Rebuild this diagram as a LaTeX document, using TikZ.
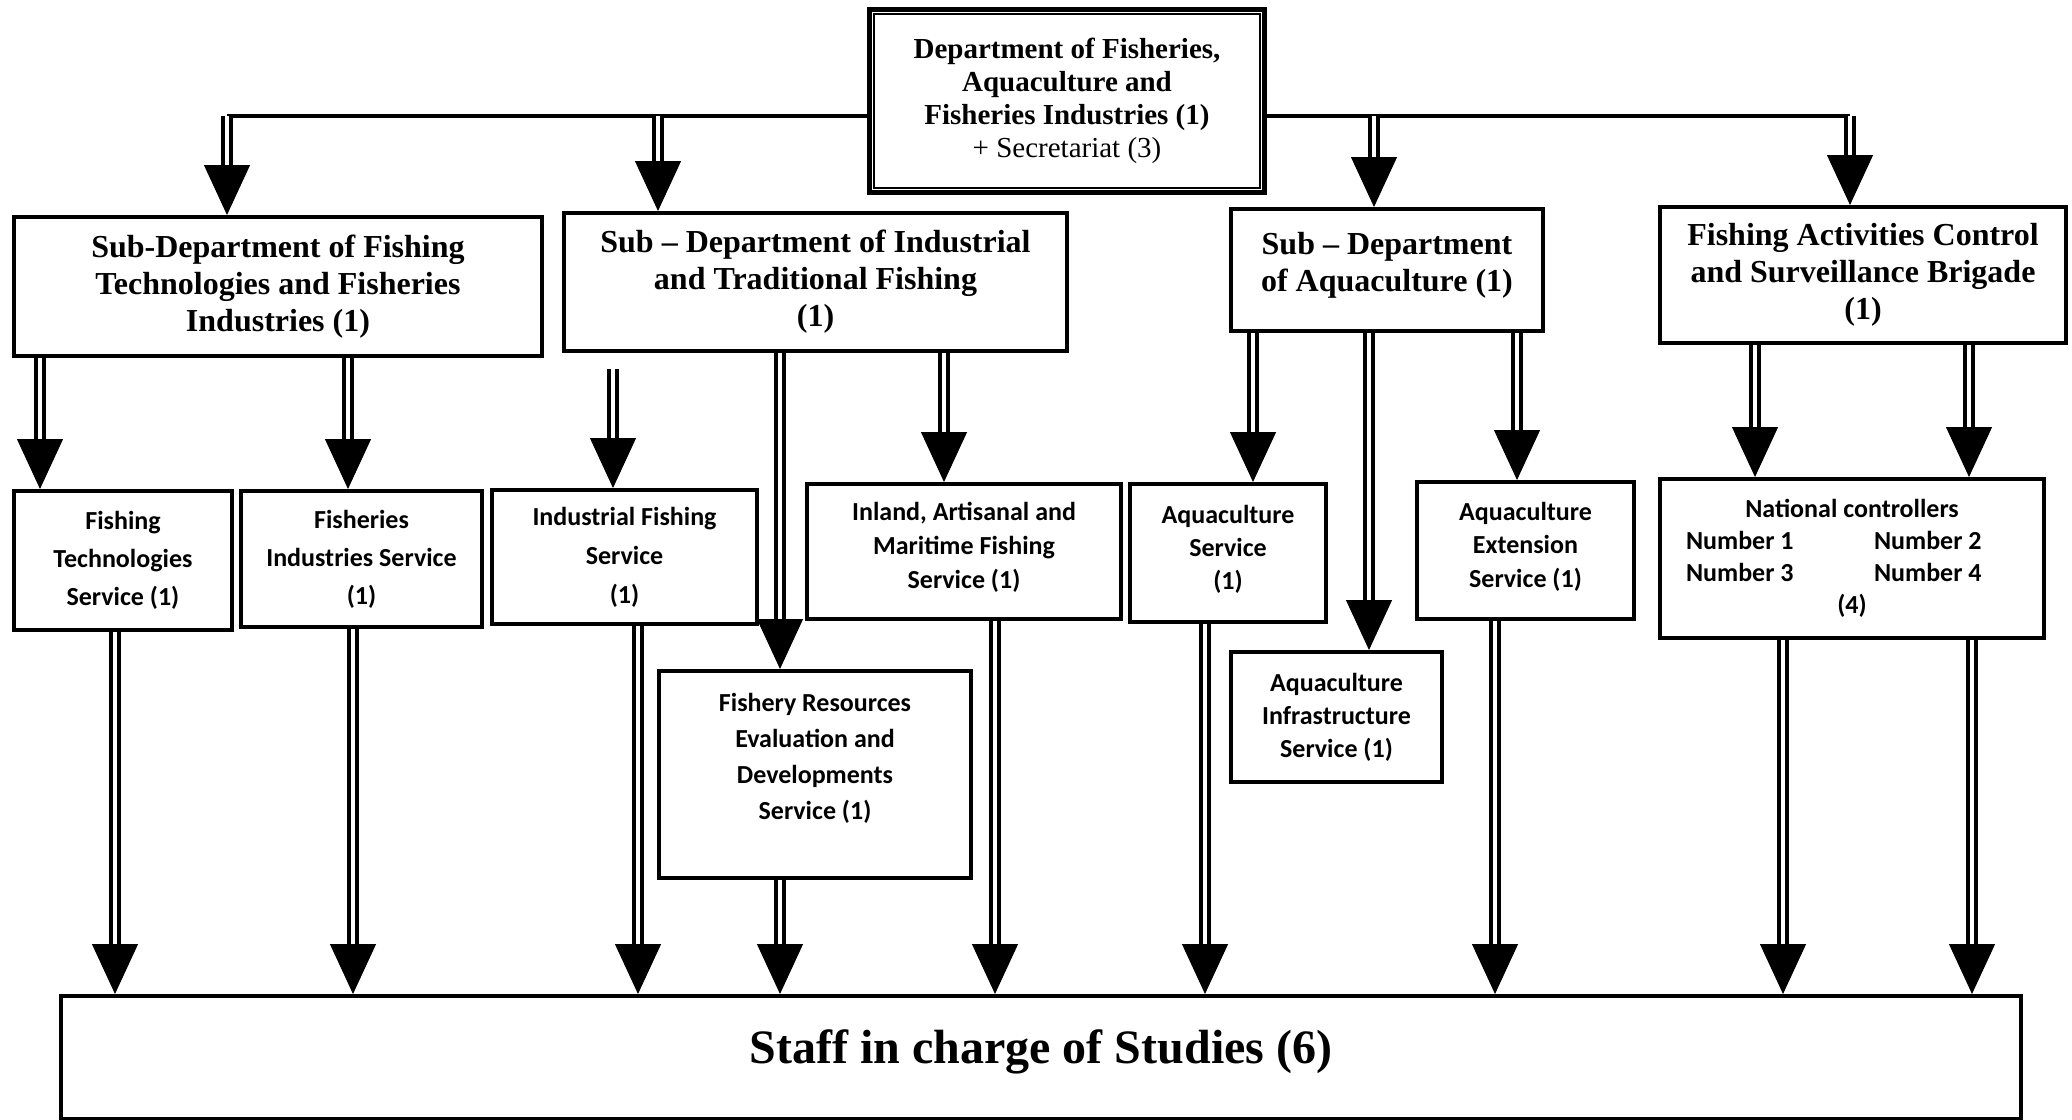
\documentclass[tikz,border=0pt]{standalone}
\usepackage{fontspec}
\setmainfont{Liberation Serif}
\newfontfamily\svcfont{Carlito}
\usetikzlibrary{arrows.meta,calc}
\newcommand{\darrow}[2]{%
  \draw[shaft] (#1) -- (#2);
  \draw[tiphead] ($(#2)+(0,-50)$) -- (#2);
}
\begin{document}
\begin{tikzpicture}[x=0.5pt,y=-0.5pt,
  box/.style={draw, line width=2pt, align=center, inner sep=0pt, anchor=north west, fill=white},
  subbox/.style={box, font=\bfseries\fontsize{16}{18.5}\selectfont},
  svcbox/.style={box, font=\svcfont\bfseries\fontsize{13}{#1}\selectfont},
  svcbox/.default=18,
  shaft/.style={draw, line width=2pt, double=white, double distance=2.2pt, shorten >=24pt},
  tiphead/.style={-{Triangle[length=25pt,width=23pt]}, line width=0.5pt},
  hline/.style={line width=2pt}]
\useasboundingbox (0,0) rectangle (2072,1119);

% ---- boxes ----
\node[box, line width=2.5pt, minimum width=197.5pt, minimum height=91.5pt,
      font=\fontsize{14.5}{16.5}\selectfont] (top) at (867,7)
  {\textbf{Department of Fisheries,}\\\textbf{Aquaculture and}\\\textbf{Fisheries Industries (1)}\\+ Secretariat (3)};
\draw[line width=1pt] ([shift={(7,7)}]top.north west) rectangle ([shift={(-7,-7)}]top.south east);

\node[subbox, minimum width=264pt, minimum height=69.5pt] (sub1) at (12,215)
  {Sub-Department of Fishing\\Technologies and Fisheries\\Industries (1)};
\node[subbox, minimum width=251.5pt, minimum height=69pt] (sub2) at (562,211)
  {Sub -- Department of Industrial\\and Traditional Fishing\\(1)};
\node[subbox, minimum width=156pt, minimum height=61pt] (sub3) at (1229,207)
  {Sub -- Department\\of Aquaculture (1)\\[-10pt]\mbox{}};
\node[subbox, minimum width=203pt, minimum height=68pt] (sub4) at (1658,205)
  {Fishing Activities Control\\and Surveillance Brigade\\(1)};

\node[svcbox=19, minimum width=109pt, minimum height=69.5pt] (fts) at (12,489)
  {Fishing\\Technologies\\Service (1)};
\node[svcbox=19, minimum width=120.5pt, minimum height=68pt] (fis) at (239,489)
  {Fisheries\\Industries Service\\(1)};
\node[svcbox=19.5, minimum width=132.5pt, minimum height=67pt] (ifs) at (490,488)
  {Industrial Fishing\\Service\\(1)};
\node[svcbox=17, minimum width=157pt, minimum height=67.5pt] (inl) at (805,482)
  {Inland, Artisanal and\\Maritime Fishing\\Service (1)\\[-11pt]\mbox{}};
\node[svcbox=18, minimum width=156pt, minimum height=103.5pt] (fre) at (657,669)
  {Fishery Resources\\Evaluation and\\Developments\\Service (1)\\[0pt]\mbox{}};
\node[svcbox=16.5, minimum width=98pt, minimum height=69pt] (aqs) at (1128,482)
  {Aquaculture\\Service\\(1)\\[-11pt]\mbox{}};
\node[svcbox=16.5, minimum width=105.5pt, minimum height=65pt] (aqi) at (1229,650)
  {Aquaculture\\Infrastructure\\Service (1)};
\node[svcbox=16.8, minimum width=108.5pt, minimum height=68.5pt] (aqe) at (1415,480)
  {Aquaculture\\Extension\\Service (1)\\[-11pt]\mbox{}};
\node[svcbox=16, minimum width=192pt, minimum height=79.5pt] (nat) at (1658,477)
  {National controllers\\\makebox[166pt][l]{\makebox[94pt][l]{Number 1}Number 2}\\\makebox[166pt][l]{\makebox[94pt][l]{Number 3}Number 4}\\(4)};

\node[box, minimum width=980pt, minimum height=61.5pt,
      font=\bfseries\fontsize{24}{28}\selectfont] (staff) at (59,994)
  {Staff in charge of Studies (6)\\[-17pt]\mbox{}};

% ---- column coordinates ----
\coordinate (hl) at (0,116);
\coordinate (ta) at (227,0);
\coordinate (tb) at (658,0);
\coordinate (tc) at (1374,0);
\coordinate (td) at (1850,0);
\coordinate (s1) at (40,0);
\coordinate (s2) at (348,0);
\coordinate (s3) at (613,0);
\coordinate (s4) at (780,0);
\coordinate (s5) at (944,0);
\coordinate (s6) at (1253,0);
\coordinate (s7) at (1369,0);
\coordinate (s8) at (1517,0);
\coordinate (s9) at (1755,0);
\coordinate (s10) at (1969,0);
\coordinate (b1) at (115,0);
\coordinate (b2) at (353,0);
\coordinate (b3) at (638,0);
\coordinate (b4) at (780,0);
\coordinate (b5) at (995,0);
\coordinate (b6) at (1205,0);
\coordinate (b7) at (1495,0);
\coordinate (b8) at (1783,0);
\coordinate (b9) at (1972,0);

% ---- top level ----
\draw[hline] (top.west |- hl) -- (ta |- hl);
\draw[hline] (top.east |- hl) -- (td |- hl);
\darrow{ta |- hl}{ta |- sub1.north}
\darrow{tb |- hl}{tb |- sub2.north}
\darrow{tc |- hl}{tc |- sub3.north}
\darrow{td |- hl}{td |- sub4.north}

% ---- sub-departments to services ----
\darrow{s1 |- sub1.south}{s1 |- fts.north}
\darrow{s2 |- sub1.south}{s2 |- fis.north}
\darrow{$(s3 |- sub2.south)+(0,16)$}{s3 |- ifs.north}
\darrow{s4 |- sub2.south}{s4 |- fre.north}
\darrow{s5 |- sub2.south}{s5 |- inl.north}
\darrow{s6 |- sub3.south}{s6 |- aqs.north}
\darrow{s7 |- sub3.south}{s7 |- aqi.north}
\darrow{s8 |- sub3.south}{s8 |- aqe.north}
\darrow{s9 |- sub4.south}{s9 |- nat.north}
\darrow{s10 |- sub4.south}{s10 |- nat.north}

% ---- services to staff ----
\darrow{b1 |- fts.south}{b1 |- staff.north}
\darrow{b2 |- fis.south}{b2 |- staff.north}
\darrow{b3 |- ifs.south}{b3 |- staff.north}
\darrow{b4 |- fre.south}{b4 |- staff.north}
\darrow{b5 |- inl.south}{b5 |- staff.north}
\darrow{b6 |- aqs.south}{b6 |- staff.north}
\darrow{b7 |- aqe.south}{b7 |- staff.north}
\darrow{b8 |- nat.south}{b8 |- staff.north}
\darrow{b9 |- nat.south}{b9 |- staff.north}
\end{tikzpicture}
\end{document}
